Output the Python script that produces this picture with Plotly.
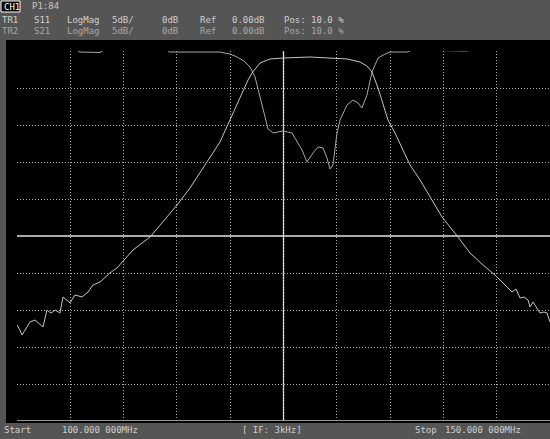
import plotly.graph_objects as go

# Sweep: 100 MHz to 150 MHz, 5 dB/div log magnitude, reference 0 dB at top
freq_start = 100.0
freq_stop = 150.0
db_top = 0.0
db_bottom = -50.0

# Transmission trace (S21)
s21_freq = [100.00, 100.28, 100.47, 100.84, 101.22, 101.69, 102.16, 102.44, 102.81, 103.19,
            103.57, 104.03, 104.32, 104.69, 104.97, 105.44, 106.10, 106.66, 107.13, 107.79,
            108.72, 109.38, 110.88, 112.48, 113.70, 115.01, 116.23, 117.82, 119.04, 119.98,
            120.92, 121.67, 122.05, 122.80, 123.73, 124.95, 127.49, 130.02, 130.96, 132.18,
            132.83, 133.30, 133.87, 134.80, 135.46, 136.21, 136.87, 137.81, 138.93, 139.87,
            141.37, 142.50, 143.72, 144.84, 145.97, 146.44, 146.81, 147.19, 147.56, 147.94,
            148.12, 148.41, 148.59, 149.06, 149.44, 149.72, 150.00]
s21_db = [-37.03, -37.70, -38.38, -37.43, -36.62, -36.35, -36.89, -37.30, -35.00, -35.41,
          -35.00, -35.41, -33.24, -33.65, -34.05, -32.97, -33.24, -32.57, -31.62, -31.22,
          -29.99, -29.32, -26.89, -25.14, -23.11, -20.81, -18.51, -15.00, -12.30, -9.32,
          -6.22, -3.92, -2.97, -1.62, -1.08, -0.95, -0.81, -0.95, -1.08, -1.49,
          -2.03, -2.84, -5.00, -9.32, -11.08, -13.38, -15.41, -17.43, -20.14, -22.43,
          -25.14, -27.30, -28.92, -30.27, -31.89, -32.57, -32.16, -33.38, -33.24, -33.65,
          -34.59, -33.92, -34.32, -35.41, -35.27, -35.41, -36.62]

# Reflection trace (S11); readings just above 0 dB run off the top of the screen
s11_freq = [100.00, 105.40, 105.91, 107.79, 108.40, 113.90, 114.35, 117.17, 119.04, 119.98,
            120.64, 121.29, 121.86, 122.33, 122.80, 123.17, 123.55, 124.02, 124.95, 125.80,
            126.27, 126.74, 127.20, 127.77, 128.24, 128.71, 129.08, 129.36, 129.64, 130.02,
            130.30, 130.96, 131.52, 131.99, 132.36, 132.83, 133.30, 133.87, 134.52, 134.99,
            136.59, 137.30, 138.60, 139.21, 142.21, 142.80, 150.00]
s11_db = [0.35, 0.30, -0.14, -0.20, 0.30, 0.25, -0.14, -0.14, -0.14, -0.41,
          -0.81, -1.35, -2.16, -3.51, -6.22, -8.65, -10.54, -11.08, -10.81, -11.08,
          -12.30, -13.38, -15.00, -13.78, -12.97, -13.11, -14.46, -15.95, -15.41, -11.08,
          -9.32, -7.30, -6.62, -7.03, -7.70, -5.95, -2.84, -0.95, -0.41, -0.14,
          -0.14, 0.30, 0.25, 0.07, 0.00, 0.35, 0.40]

# Header / footer annotation texts
hdr_ch = "CH1"
hdr_pt = "P1:84"
tr1_fields = ["TR1", "S11", "LogMag", "5dB/", "0dB", "Ref", "0.00dB", "Pos: 10.0 %"]
tr2_fields = ["TR2", "S21", "LogMag", "5dB/", "0dB", "Ref", "0.00dB", "Pos: 10.0 %"]
footer_start = ["Start", "100.000 000MHz"]
footer_mid = "[ IF: 3kHz]"
footer_stop = ["Stop", "150.000 000MHz"]

W, H = 550, 439
ML, MR, MT, MB = 17, 0, 51, 18
PW, PH = W - ML - MR, H - MT - MB


def px(x):
    return (x - ML) / PW


def py(y):
    return (H - MB - y) / PH


fig = go.Figure()
fig.add_trace(go.Scatter(x=s11_freq, y=s11_db, mode="lines",
                         line=dict(color="#a6a6a6", width=1), showlegend=False))
fig.add_trace(go.Scatter(x=s21_freq, y=s21_db, mode="lines",
                         line=dict(color="#c4c4c4", width=1), showlegend=False))

shapes = [
    # black screen area
    dict(type="rect", xref="paper", yref="paper", x0=px(6), x1=1.0, y0=py(423), y1=py(40),
         fillcolor="black", line_width=0, layer="below"),
    # center reference lines
    dict(type="line", xref="x", yref="y", x0=(freq_start + freq_stop) / 2, x1=(freq_start + freq_stop) / 2,
         y0=db_bottom, y1=db_top, line=dict(color="#eeeeee", width=1.3), layer="below"),
    dict(type="line", xref="x", yref="y", x0=freq_start, x1=freq_stop,
         y0=(db_top + db_bottom) / 2, y1=(db_top + db_bottom) / 2,
         line=dict(color="#e0e0e0", width=1.3), layer="below"),
    dict(type="line", xref="x", yref="y", x0=freq_start, x1=freq_stop,
         y0=db_bottom, y1=db_bottom, line=dict(color="#c4c4c4", width=1.3), layer="below"),
    # CH1 box
    dict(type="rect", xref="paper", yref="paper", x0=px(1), x1=px(20), y0=py(12), y1=py(1),
         fillcolor="black", line=dict(color="#ffffff", width=1)),
]

ann = []


def label(x, y, text, color="#d0d0d0", size=9):
    ann.append(dict(xref="paper", yref="paper", x=px(x), y=py(y), text=text, showarrow=False,
                    xanchor="left", yanchor="middle",
                    font=dict(family="DejaVu Sans Mono", size=size, color=color)))


label(2, 6.5, hdr_ch, "#ffffff")
label(30, 6, hdr_pt, "#c8c8c8")
cols = [0, 32, 65, 110, 160, 198, 230, 282]
for cx, t in zip(cols, tr1_fields):
    label(cx, 20, t, "#cfcfcf")
for cx, t in zip(cols, tr2_fields):
    label(cx, 31, t, "#a8a8a8")
label(2, 430, footer_start[0], "#cfcfcf")
label(60, 430, footer_start[1], "#cfcfcf")
label(240, 430, footer_mid, "#cfcfcf")
label(413, 430, footer_stop[0], "#cfcfcf")
label(443, 430, footer_stop[1], "#cfcfcf")

grid = dict(showgrid=True, gridcolor="#acacac", gridwidth=1, griddash="1px,2px",
            zeroline=False, showticklabels=False, ticks="", showline=False)

fig.update_layout(
    width=W, height=H,
    margin=dict(l=ML, r=MR, t=MT, b=MB),
    paper_bgcolor="#555555",
    plot_bgcolor="black",
    xaxis=dict(range=[freq_start, freq_stop], dtick=5, tick0=freq_start, **grid),
    yaxis=dict(range=[db_bottom, db_top], dtick=5, tick0=db_bottom, **grid),
    shapes=shapes,
    annotations=ann,
    showlegend=False,
)

fig.write_html("out.html")
